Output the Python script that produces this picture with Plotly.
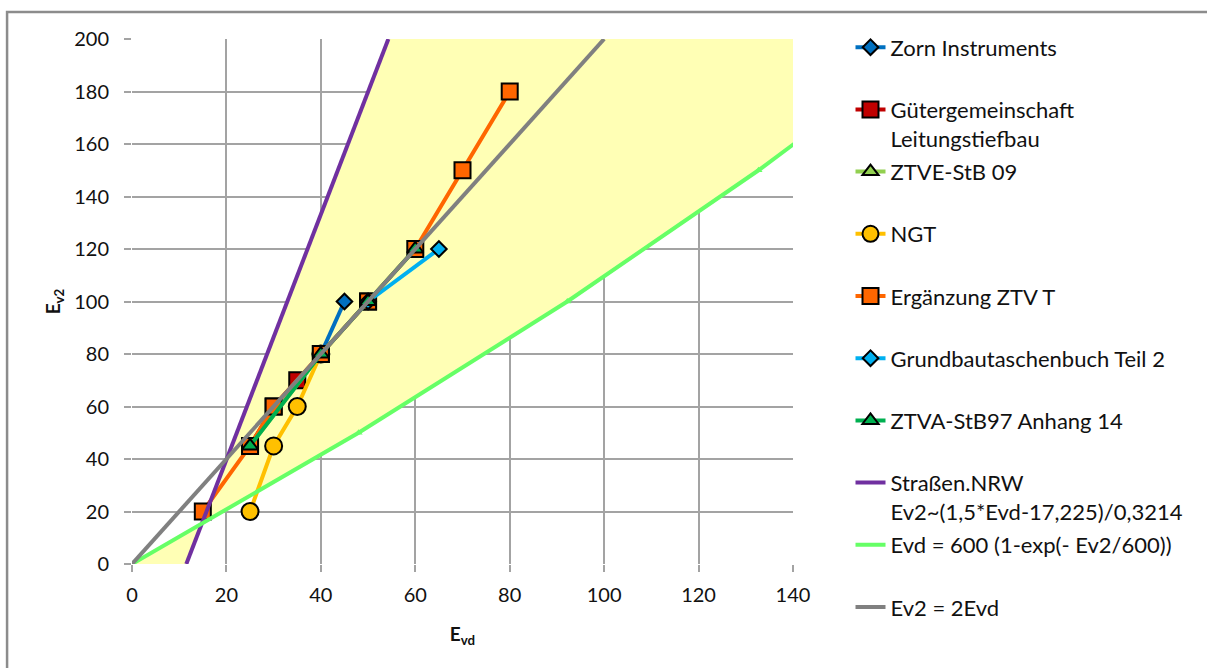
import plotly.graph_objects as go

# Measured point pairs (Evd [MN/m²], Ev2 [MN/m²]) per source
zorn_evd = [40, 45]
zorn_ev2 = [80, 100]

gueter_evd = [25, 30, 35, 40, 50]
gueter_ev2 = [45, 60, 70, 80, 100]

ztve_evd = [25, 40, 50, 60]
ztve_ev2 = [45, 80, 100, 120]

ngt_evd = [25, 30, 35, 40]
ngt_ev2 = [20, 45, 60, 80]

ergaenzung_evd = [15, 25, 30, 40, 50, 60, 70, 80]
ergaenzung_ev2 = [20, 45, 60, 80, 100, 120, 150, 180]

grundbau_evd = [50, 65]
grundbau_ev2 = [100, 120]

ztva_evd = [25, 40, 50, 60]
ztva_ev2 = [45, 80, 100, 120]

# Straßen.NRW relation, end points
nrw_evd = [11.5, 54.3]
nrw_ev2 = [0, 200]

# Evd = 600 (1-exp(-Ev2/600)), tabulated
exp_evd = [0, 48.0, 92.2, 132.7, 170.1]
exp_ev2 = [0, 50, 100, 150, 200]

# Ev2 = 2 Evd
lin_evd = [0, 100]
lin_ev2 = [0, 200]

FONT = "Lato"
LW = 4
PAD = "<br>\u00a0"  # keeps every legend entry two lines tall

fig = go.Figure()

# shaded band between the Straßen.NRW line and the exponential curve
band_x = nrw_evd + exp_evd[::-1]
band_y = nrw_ev2 + exp_ev2[::-1]
fig.add_trace(go.Scatter(x=band_x, y=band_y, mode="lines", fill="toself",
                         fillcolor="#FFFFB5", line=dict(width=0),
                         showlegend=False, hoverinfo="skip"))


def series(name, x, y, color, symbol=None, size=14):
    mode = "lines+markers" if symbol else "lines"
    marker = dict(symbol=symbol, size=size, color=color,
                  line=dict(color="black", width=2)) if symbol else None
    label = name if "<br>" in name else name + PAD
    fig.add_trace(go.Scatter(
        x=x, y=y, mode=mode, name=label,
        line=dict(color=color, width=LW), marker=marker,
        legendgroup=name))


series("Zorn Instruments", zorn_evd, zorn_ev2, "#0070C0", "diamond", 12)
series("Gütergemeinschaft<br>Leitungstiefbau", gueter_evd, gueter_ev2,
       "#C00000", "square", 16)
series("ZTVE-StB 09", ztve_evd, ztve_ev2, "#92D050", "triangle-up", 14)
series("NGT", ngt_evd, ngt_ev2, "#FFC000", "circle", 17)
series("Ergänzung ZTV T", ergaenzung_evd, ergaenzung_ev2, "#FF6600",
       "square", 16)
series("Grundbautaschenbuch Teil 2", grundbau_evd, grundbau_ev2, "#00B0F0",
       "diamond", 12)
series("ZTVA-StB97 Anhang 14", ztva_evd, ztva_ev2, "#00B050", "triangle-up",
       14)
series("Straßen.NRW<br>Ev2~(1,5*Evd-17,225)/0,3214", nrw_evd, nrw_ev2,
       "#7030A0")
series("Evd = 600 (1-exp(- Ev2/600))", exp_evd, exp_ev2, "#66FF66")
fig.add_trace(go.Scatter(x=exp_evd, y=exp_ev2, mode="markers",
                         marker=dict(symbol="triangle-up", size=7,
                                     color="#66FF66"),
                         showlegend=False, hoverinfo="skip"))
series("Ev2 = 2Evd", lin_evd, lin_ev2, "#808080")

axis_common = dict(
    showgrid=True, gridcolor="#A3A3A3", gridwidth=1.5,
    ticks="outside", ticklen=7, tickcolor="#A3A3A3", tickwidth=1.5,
    showline=False, zeroline=False, dtick=20,
    tickfont=dict(family=FONT, size=20, color="#111111"),
)

fig.update_xaxes(range=[0, 140], **axis_common,
                 ticklabelstandoff=6,
                 title=dict(text="<b>E<sub>vd</sub></b>",
                            font=dict(family=FONT, size=19, color="#111111"),
                            standoff=22))
fig.update_yaxes(range=[0, 200], **axis_common,
                 ticklabelstandoff=11,
                 title=dict(text="<b>E<sub>v2</sub></b>",
                            font=dict(family=FONT, size=19, color="#111111"),
                            standoff=8))

fig.update_layout(
    width=1207, height=668,
    margin=dict(l=132, r=414, t=39, b=104),
    plot_bgcolor="white", paper_bgcolor="white",
    font=dict(family=FONT, color="#111111"),
    legend=dict(x=1.087, y=1.024, xanchor="left", yanchor="top",
                traceorder="grouped", tracegroupgap=2, valign="top",
                maxheight=660,
                font=dict(family=FONT, size=22, color="#111111"),
                bgcolor="rgba(0,0,0,0)"),
    shapes=[dict(type="rect", xref="paper", yref="paper",
                 x0=-0.189, x1=1.65, y0=-0.25, y1=1.0514,
                 line=dict(color="#8C8C8C", width=2.5), layer="below")],
)

fig.write_html("out.html")
